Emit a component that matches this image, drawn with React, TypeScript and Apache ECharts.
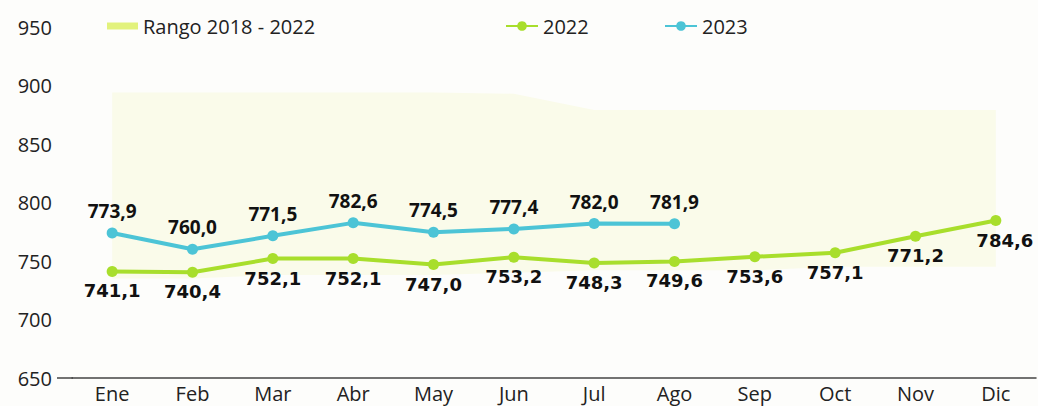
import React, { useEffect, useRef } from "react";
import * as echarts from "echarts";

const months = ["Ene", "Feb", "Mar", "Abr", "May", "Jun", "Jul", "Ago", "Sep", "Oct", "Nov", "Dic"];
const values2022 = [741.1, 740.4, 752.1, 752.1, 747.0, 753.2, 748.3, 749.6, 753.6, 757.1, 771.2, 784.6];
const values2023 = [773.9, 760.0, 771.5, 782.6, 774.5, 777.4, 782.0, 781.9];
const rangeMin = [735, 735, 738, 738, 738, 740, 742, 742, 742, 745, 745, 745];
const rangeMax = [894, 894, 894, 894, 894, 893, 879, 879, 879, 879, 879, 879];
const yTicks = [650, 700, 750, 800, 850, 900, 950];

const fmt = (v: number) => v.toFixed(1).replace(".", ",");

export default function App() {
  const ref = useRef<HTMLDivElement>(null);
  useEffect(() => {
    if (!ref.current) return;
    const chart = echarts.init(ref.current, undefined, { renderer: "svg" });
    const font = "'Open Sans', sans-serif";
    const c2022 = "#a8de2c";
    const c2023 = "#4cc4d6";
    chart.setOption({
      animation: false,
      backgroundColor: "#fdfdfb",
      grid: { left: 72, right: 2, top: 27, bottom: 28, containLabel: false },
      legend: [
        {
          left: 102, top: 11, itemWidth: 31, itemHeight: 7, itemGap: 0,
          textStyle: { fontFamily: font, fontSize: 20, color: "#222" },
          data: [{ name: "Rango 2018 - 2022", icon: "rect", itemStyle: { color: "#e2f27c" } }],
        },
        {
          left: 500, top: 11, itemWidth: 32, itemHeight: 12,
          textStyle: { fontFamily: font, fontSize: 20, color: "#222" },
          data: ["2022"],
        },
        {
          left: 659, top: 11, itemWidth: 32, itemHeight: 12,
          textStyle: { fontFamily: font, fontSize: 20, color: "#222" },
          data: ["2023"],
        },
      ],
      xAxis: {
        type: "category",
        data: months,
        boundaryGap: true,
        axisLine: { show: true, lineStyle: { color: "#444", width: 1.5 } },
        axisTick: { show: false },
        axisLabel: { fontFamily: font, fontSize: 20, color: "#222", margin: 5 },
      },
      yAxis: {
        type: "value",
        min: 650,
        max: 950,
        interval: 50,
        splitLine: { show: false },
        axisLine: { show: false },
        axisTick: { show: false },
        axisLabel: {
          fontFamily: font, fontSize: 20, color: "#222", margin: 20,
          formatter: (v: number) => (yTicks.includes(v) ? String(v) : ""),
        },
      },
      graphic: [
        { type: "line", shape: { x1: 57, y1: 378, x2: 73, y2: 378 }, style: { stroke: "#444", lineWidth: 1.5 } },
      ],
      series: [
        {
          name: "rangeLow",
          type: "line",
          stack: "range",
          data: rangeMin,
          symbol: "none",
          lineStyle: { opacity: 0 },
          silent: true,
          z: 1,
        },
        {
          name: "Rango 2018 - 2022",
          type: "line",
          stack: "range",
          data: rangeMax.map((v, i) => +(v - rangeMin[i]).toFixed(1)),
          symbol: "none",
          lineStyle: { opacity: 0 },
          itemStyle: { color: "#e2f27c" },
          areaStyle: { color: "#fafbea", opacity: 1 },
          silent: true,
          z: 1,
        },
        {
          name: "2022",
          type: "line",
          data: values2022.map((v, i) =>
            i === 11 ? { value: v, label: { offset: [9, 0] } } : v
          ),
          symbol: "circle",
          symbolSize: 11,
          color: c2022,
          lineStyle: { color: c2022, width: 4 },
          itemStyle: { color: c2022 },
          z: 3,
          label: {
            show: true,
            position: "bottom",
            distance: 5,
            fontFamily: "'DejaVu Sans', sans-serif",
            fontWeight: "bold",
            fontSize: 18,
            color: "#111",
            formatter: (p: any) => fmt(p.value),
          },
        },
        {
          name: "2023",
          type: "line",
          data: values2023,
          symbol: "circle",
          symbolSize: 11,
          color: c2023,
          lineStyle: { color: c2023, width: 4 },
          itemStyle: { color: c2023 },
          z: 3,
          label: {
            show: true,
            position: "top",
            distance: 7,
            fontFamily: font,
            fontWeight: "bold",
            fontSize: 19,
            color: "#111",
            formatter: (p: any) => fmt(p.value),
          },
        },
      ],
    });
    return () => chart.dispose();
  }, []);
  return <div ref={ref} style={{ width: 1038, height: 406, position: "fixed", left: 0, top: 0 }} />;
}
